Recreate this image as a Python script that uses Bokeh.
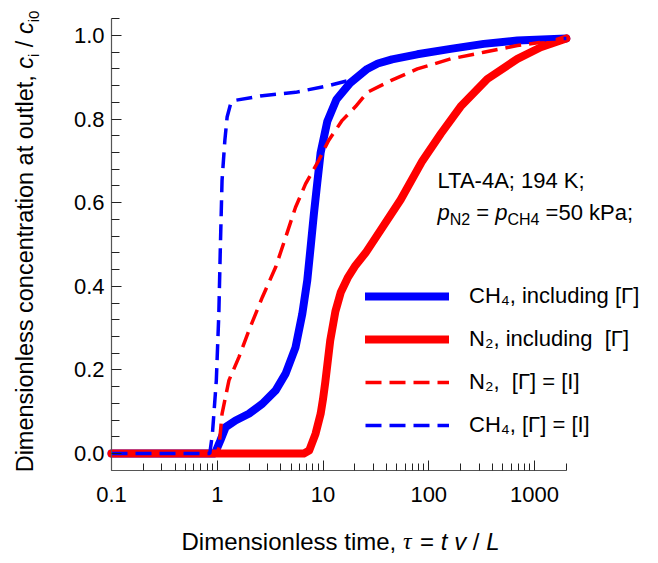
import math
from bokeh.plotting import figure
from bokeh.models import (Range1d, FixedTicker, CustomJSTickFormatter, PrintfTickFormatter,
                          Label, Legend, LegendItem)
from bokeh.embed import file_html
from bokeh.resources import INLINE

# ---------------- data ----------------
ch4_incl_x = [0.1, 0.95, 1.07, 1.2, 1.49, 1.99, 2.67, 3.57, 4.43, 5.5, 6.37, 7.1, 7.64, 8.2,
              8.83, 9.5, 11.0, 13.4, 18.0, 26.2, 33, 45, 78, 161, 331, 689, 2000]
ch4_incl_y = [0.0, 0.0, 0.031, 0.063, 0.079, 0.095, 0.119, 0.151, 0.191, 0.254, 0.334, 0.414,
              0.494, 0.573, 0.648, 0.72, 0.795, 0.847, 0.886, 0.92, 0.933, 0.943, 0.955, 0.968,
              0.98, 0.988, 0.993]

n2_incl_x = [0.1, 6.6, 7.4, 8.5, 9.5, 10.0, 10.5, 11.7, 13.1, 14.7, 17.1, 20.3, 25.3, 35.2,
             54.2, 87, 130, 200, 358, 689, 1146, 2000]
n2_incl_y = [0.0, 0.0, 0.007, 0.047, 0.095, 0.13, 0.17, 0.27, 0.34, 0.385, 0.42, 0.45, 0.48,
             0.535, 0.607, 0.70, 0.765, 0.83, 0.896, 0.944, 0.972, 0.993]

n2_ideal_x = [0.1, 1.0, 1.04, 1.11, 1.29, 1.6, 1.99, 2.67, 3.57, 4.43, 5.5, 6.84, 9.1, 11.3,
              15.2, 20.3, 26.2, 43.7, 78, 161, 331, 689, 2000]
n2_ideal_y = [0.0, 0.0, 0.015, 0.095, 0.175, 0.23, 0.294, 0.374, 0.446, 0.517, 0.589, 0.645,
              0.701, 0.749, 0.797, 0.83, 0.864, 0.892, 0.92, 0.944, 0.96, 0.976, 0.992]

ch4_ideal_x = [0.1, 0.85, 0.9, 0.98, 1.035, 1.07, 1.11, 1.18, 1.24, 1.34, 1.49, 2.67, 5.5,
               11.3, 19, 26.2, 33, 45, 78, 161, 331, 689, 2000]
ch4_ideal_y = [0.0, 0.0, 0.047, 0.175, 0.334, 0.494, 0.653, 0.749, 0.805, 0.837, 0.845, 0.856,
               0.864, 0.88, 0.895, 0.92, 0.933, 0.943, 0.955, 0.968, 0.98, 0.988, 0.993]

x_major = [0.1, 1, 10, 100, 1000]
x_minor = [0.2, 0.3, 0.4, 0.5, 0.6, 0.7, 0.8, 0.9, 2, 3, 4, 5, 6, 7, 8, 9,
           20, 30, 40, 50, 60, 70, 80, 90, 200, 300, 400, 500, 600, 700, 800, 900, 2000]
y_major = [0.0, 0.2, 0.4, 0.6, 0.8, 1.0]
y_minor = [0.04, 0.08, 0.12, 0.16, 0.24, 0.28, 0.32, 0.36, 0.44, 0.48, 0.52, 0.56,
           0.64, 0.68, 0.72, 0.76, 0.84, 0.88, 0.92, 0.96, 1.04]
x_axis_span = (0.1, 2000)
y_axis_span = (-0.04, 1.04)

legend_labels = ["CH\u2084, including [\u0393]", "N\u2082, including  [\u0393]",
                 "N\u2082,  [\u0393] = [I]", "CH\u2084, [\u0393] = [I]"]

BLUE = "#0000ff"
RED = "#ff0000"
SANS = "Liberation Sans"
SERIF = "Liberation Serif"

# ---------------- geometry: frame fills the canvas, axes drawn at fixed locations ----------
W_PX, H_PX = 650, 555
X0_PX, DEC_PX = 111.0, 105.75       # pixel of x=0.1, pixels per decade
Y0_PX, UNIT_PX = 453.0, 418.0       # pixel of y=0, pixels per unit
x_lo = 10 ** (-1 - X0_PX / DEC_PX)
x_hi = 10 ** (-1 + (W_PX - X0_PX) / DEC_PX)
y_lo = -(H_PX - Y0_PX) / UNIT_PX
y_hi = Y0_PX / UNIT_PX

p = figure(width=W_PX, height=H_PX, x_axis_type="log",
           x_range=Range1d(x_lo, x_hi), y_range=Range1d(y_lo, y_hi),
           output_backend="svg", toolbar_location=None,
           min_border_left=0, min_border_right=0, min_border_top=0, min_border_bottom=0)
p.outline_line_color = None
p.xgrid.visible = False
p.ygrid.visible = False
p.background_fill_color = "white"
p.border_fill_color = "white"

p.xaxis.ticker = FixedTicker(ticks=x_major, minor_ticks=x_minor)
p.xaxis.formatter = CustomJSTickFormatter(code="return tick < 1 ? tick.toFixed(1) : tick.toFixed(0);")
p.yaxis.ticker = FixedTicker(ticks=y_major, minor_ticks=y_minor)
p.yaxis.formatter = PrintfTickFormatter(format="%.1f")
p.xaxis.fixed_location = y_axis_span[0]
p.yaxis.fixed_location = x_axis_span[0]
p.xaxis.bounds = x_axis_span
p.yaxis.bounds = y_axis_span

for ax in (p.xaxis[0], p.yaxis[0]):
    ax.axis_line_color = "#555555"
    ax.axis_line_width = 1.2
    ax.major_tick_line_color = "#222222"
    ax.minor_tick_line_color = "#222222"
    ax.major_tick_out = 0
    ax.minor_tick_out = 0
    ax.major_label_text_font = SANS
    ax.major_label_text_font_size = "22px"
    ax.major_label_text_color = "black"
p.xaxis.major_tick_in = 10
p.xaxis.minor_tick_in = 7
p.yaxis.major_tick_in = 10
p.yaxis.minor_tick_in = 8
p.xaxis.major_label_standoff = 17
p.yaxis.major_label_standoff = 7

r_ch4 = p.line(ch4_incl_x, ch4_incl_y, line_color=BLUE, line_width=8, line_cap="round", line_join="round")
r_n2 = p.line(n2_incl_x, n2_incl_y, line_color=RED, line_width=8, line_cap="round", line_join="round")
r_n2i = p.line(n2_ideal_x, n2_ideal_y, line_color=RED, line_width=3.5, line_dash="16 8")
r_ch4i = p.line(ch4_ideal_x, ch4_ideal_y, line_color=BLUE, line_width=3.5, line_dash="16 8")

legend = Legend(items=[LegendItem(label=legend_labels[0], renderers=[r_ch4]),
                       LegendItem(label=legend_labels[1], renderers=[r_n2]),
                       LegendItem(label=legend_labels[2], renderers=[r_n2i]),
                       LegendItem(label=legend_labels[3], renderers=[r_ch4i])],
                location=(365, 117), glyph_width=84, glyph_height=24, label_height=24,
                label_standoff=20, spacing=17, padding=10, margin=0,
                border_line_color=None, background_fill_alpha=0,
                label_text_font=SANS, label_text_font_size="22px", label_text_color="black")
p.add_layout(legend)

# ---------------- rich text helpers ----------------
W = {' ': 278, ',': 278, '-': 333, '.': 278, '/': 278, ';': 278, '=': 584, '[': 278, ']': 278,
     'A': 667, 'C': 722, 'D': 722, 'H': 722, 'I': 278, 'K': 667, 'L': 556, 'N': 722, 'P': 667,
     'T': 611, 'a': 556, 'c': 500, 'd': 556, 'e': 556, 'g': 556, 'h': 556, 'i': 222, 'k': 500,
     'l': 222, 'm': 833, 'n': 556, 'o': 556, 'p': 556, 'r': 333, 's': 500, 't': 278, 'u': 556,
     'v': 500, 'x': 500, '\u03c4': 440, '\u0393': 600}
for d in "0123456789":
    W[d] = 556
MID = 0.3465   # middle of the font box above the baseline, in em


def tw(t, size):
    return sum(W.get(ch, 556) for ch in t) / 1000.0 * size


def put(t, x_img, y_img, size, font=SANS, style="normal", angle=0.0):
    """Place text whose alphabetic baseline starts at page pixel (x_img, y_img)."""
    lead = len(t) - len(t.lstrip(" "))
    if lead:
        adv = tw(" " * lead, size)
        x_img += adv * math.cos(angle)
        y_img -= adv * math.sin(angle)
    t = t.strip(" ")
    if not t:
        return
    m = MID * size
    x_img -= m * math.sin(angle)
    y_img -= m * math.cos(angle)
    p.add_layout(Label(x=x_img, y=H_PX - y_img, x_units="screen", y_units="screen",
                       text=t, text_font=font, text_font_style=style,
                       text_font_size=f"{size}px", text_align="left",
                       text_baseline="middle", angle=angle, text_color="black"))


def run_h(pieces, x0, base):
    x = x0
    for t, size, font, style, dy in pieces:
        put(t, x, base + dy, size, font, style)
        x += tw(t, size)


def run_v(pieces, bx, y0):
    y = y0
    for t, size, font, style, dy in pieces:
        put(t, bx + dy, y, size, font, style, angle=math.pi / 2)
        y -= tw(t, size)


# x axis title
xl = [("Dimensionless time, ", 24, SANS, "normal", 0),
      ("\u03c4", 24, SERIF, "italic", 0),
      (" = ", 24, SANS, "normal", 0),
      ("t", 24, SANS, "italic", 0),
      (" ", 24, SANS, "normal", 0),
      ("v", 24, SANS, "italic", 0),
      (" / ", 24, SANS, "normal", 0),
      ("L", 24, SANS, "italic", 0)]
xw = sum(tw(t, s) for t, s, *_ in xl)
run_h(xl, 340 - xw / 2, 549)

# y axis title
yl = [("Dimensionless concentration at outlet, ", 23.5, SANS, "normal", 0),
      ("c", 23.5, SANS, "italic", 0),
      ("i", 15, SANS, "normal", 5),
      (" / ", 23.5, SANS, "normal", 0),
      ("c", 23.5, SANS, "italic", 0),
      ("i0", 15, SANS, "normal", 5)]
yw = sum(tw(t, s) for t, s, *_ in yl)
run_v(yl, 33, 241 + yw / 2)

# annotation
run_h([("LTA-4A; 194 K;", 22, SANS, "normal", 0)], 437, 188)
run_h([("p", 22, SANS, "italic", 0),
       ("N2", 16, SANS, "normal", 5),
       (" = ", 22, SANS, "normal", 0),
       ("p", 22, SANS, "italic", 0),
       ("CH4", 16, SANS, "normal", 5),
       (" =50 kPa;", 22, SANS, "normal", 0)], 437, 220)

open("out.html", "w").write(file_html(p, INLINE))
